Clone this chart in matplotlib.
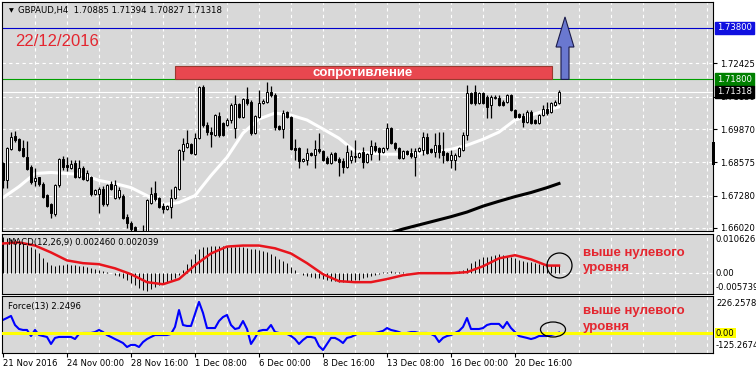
import matplotlib
matplotlib.use("Agg")
import matplotlib.pyplot as plt
from matplotlib.patches import Rectangle, Polygon, Ellipse
import numpy as np

# ---------------- data (GBPAUD H4) ----------------
opens = [1.6853, 1.6787, 1.6908, 1.6959, 1.6947, 1.6912, 1.6877, 1.6838, 1.6783, 1.6799,
         1.6775, 1.6732, 1.6697, 1.6658, 1.6771, 1.6869, 1.6846, 1.6834, 1.6853, 1.6799,
         1.6834, 1.6787, 1.6799, 1.6736, 1.6736, 1.6755, 1.6697, 1.6775, 1.6720, 1.6724,
         1.6728, 1.6646, 1.6622, 1.6606, 1.6583, 1.6552, 1.6560, 1.6701, 1.6740, 1.6720,
         1.6689, 1.6677, 1.6685, 1.6720, 1.6755, 1.6900, 1.6916, 1.6928, 1.6889, 1.6951,
         1.7151, 1.7002, 1.6975, 1.6963, 1.7038, 1.7010, 1.7002, 1.7022, 1.6991, 1.7084,
         1.7034, 1.7104, 1.7092, 1.6971, 1.7034, 1.7088, 1.7092, 1.7131, 1.7120, 1.6998,
         1.6987, 1.7053, 1.7034, 1.6912, 1.6912, 1.6861, 1.6865, 1.6893, 1.6885, 1.6908,
         1.6900, 1.6873, 1.6853, 1.6893, 1.6869, 1.6861, 1.6838, 1.6865, 1.6881, 1.6877,
         1.6897, 1.6857, 1.6889, 1.6920, 1.6912, 1.6897, 1.6912, 1.6991, 1.6932, 1.6912,
         1.6873, 1.6900, 1.6893, 1.6877, 1.6900, 1.6904, 1.6955, 1.6908, 1.6897, 1.6924,
         1.6900, 1.6893, 1.6865, 1.6865, 1.6881, 1.6904, 1.6963, 1.7127, 1.7131, 1.7088,
         1.7127, 1.7112, 1.7081, 1.7108, 1.7108, 1.7092, 1.7092, 1.7120, 1.7061, 1.7045,
         1.7038, 1.7014, 1.7053, 1.7022, 1.7010, 1.7041, 1.7065, 1.7053, 1.7081, 1.70885]
highs = [1.6857, 1.6916, 1.6975, 1.6979, 1.6951, 1.6944, 1.6940, 1.6846, 1.6834, 1.6802,
         1.6779, 1.6736, 1.6701, 1.6775, 1.6873, 1.6881, 1.6877, 1.6865, 1.6865, 1.6865,
         1.6842, 1.6826, 1.6806, 1.6755, 1.6763, 1.6767, 1.6775, 1.6783, 1.6787, 1.6763,
         1.6736, 1.6658, 1.6630, 1.6610, 1.6591, 1.6614, 1.6716, 1.6763, 1.6783, 1.6724,
         1.6701, 1.6693, 1.6755, 1.6767, 1.6908, 1.6951, 1.6983, 1.6932, 1.6971, 1.7155,
         1.7158, 1.7014, 1.6994, 1.7045, 1.7053, 1.7014, 1.7030, 1.7088, 1.7120, 1.7088,
         1.7108, 1.7151, 1.7100, 1.7041, 1.7139, 1.7104, 1.7170, 1.7155, 1.7127, 1.7002,
         1.7061, 1.7057, 1.7038, 1.6947, 1.6916, 1.6873, 1.6912, 1.6897, 1.6944, 1.6971,
         1.6904, 1.6881, 1.6897, 1.6897, 1.6877, 1.6873, 1.6924, 1.6904, 1.6944, 1.6897,
         1.6916, 1.6893, 1.6944, 1.6936, 1.6916, 1.6916, 1.7010, 1.6994, 1.6936, 1.6916,
         1.6904, 1.6904, 1.6912, 1.6912, 1.6916, 1.6975, 1.6971, 1.6912, 1.6971, 1.6975,
         1.6975, 1.6897, 1.6904, 1.6893, 1.6916, 1.6975, 1.7158, 1.7131, 1.7158, 1.7131,
         1.7131, 1.7120, 1.7120, 1.7120, 1.7120, 1.7100, 1.7123, 1.7123, 1.7065, 1.7049,
         1.7049, 1.7061, 1.7061, 1.7026, 1.7045, 1.7081, 1.7092, 1.7092, 1.7100, 1.71394]
lows = [1.6759, 1.6759, 1.6904, 1.6936, 1.6900, 1.6877, 1.6826, 1.6775, 1.6767, 1.6767,
        1.6720, 1.6685, 1.6642, 1.6650, 1.6763, 1.6826, 1.6822, 1.6830, 1.6795, 1.6795,
        1.6787, 1.6783, 1.6728, 1.6732, 1.6661, 1.6689, 1.6689, 1.6751, 1.6716, 1.6716,
        1.6638, 1.6603, 1.6591, 1.6568, 1.6544, 1.6544, 1.6544, 1.6697, 1.6708, 1.6681,
        1.6661, 1.6673, 1.6642, 1.6716, 1.6751, 1.6865, 1.6912, 1.6889, 1.6885, 1.6947,
        1.6994, 1.6963, 1.6916, 1.6959, 1.6955, 1.6959, 1.6998, 1.7010, 1.6951, 1.7030,
        1.7030, 1.7081, 1.6963, 1.6967, 1.7030, 1.7084, 1.7088, 1.7112, 1.6983, 1.6983,
        1.6951, 1.7030, 1.6904, 1.6865, 1.6834, 1.6857, 1.6846, 1.6881, 1.6834, 1.6893,
        1.6861, 1.6849, 1.6849, 1.6861, 1.6806, 1.6814, 1.6834, 1.6853, 1.6857, 1.6873,
        1.6834, 1.6853, 1.6865, 1.6897, 1.6865, 1.6893, 1.6904, 1.6928, 1.6904, 1.6869,
        1.6869, 1.6885, 1.6873, 1.6806, 1.6897, 1.6885, 1.6889, 1.6893, 1.6877, 1.6873,
        1.6853, 1.6861, 1.6834, 1.6826, 1.6877, 1.6900, 1.6944, 1.7084, 1.7081, 1.7084,
        1.7084, 1.7030, 1.7030, 1.7104, 1.7077, 1.7077, 1.7088, 1.7057, 1.7030, 1.7030,
        1.6994, 1.7010, 1.7006, 1.7006, 1.7006, 1.7038, 1.7041, 1.7049, 1.7077, 1.70827]
closes = [1.6787, 1.6912, 1.6955, 1.6944, 1.6904, 1.6881, 1.6830, 1.6779, 1.6795, 1.6775,
          1.6724, 1.6689, 1.6661, 1.6771, 1.6869, 1.6838, 1.6838, 1.6849, 1.6799, 1.6834,
          1.6791, 1.6814, 1.6736, 1.6751, 1.6755, 1.6697, 1.6771, 1.6755, 1.6771, 1.6751,
          1.6642, 1.6622, 1.6599, 1.6583, 1.6560, 1.6572, 1.6712, 1.6736, 1.6716, 1.6685,
          1.6677, 1.6689, 1.6720, 1.6763, 1.6904, 1.6928, 1.6932, 1.6893, 1.6951, 1.7151,
          1.7002, 1.6975, 1.6967, 1.7041, 1.6963, 1.6963, 1.7022, 1.7081, 1.7084, 1.7034,
          1.7104, 1.7088, 1.6971, 1.7038, 1.7088, 1.7096, 1.7131, 1.7120, 1.6994, 1.6987,
          1.7049, 1.7034, 1.6908, 1.6904, 1.6861, 1.6869, 1.6893, 1.6885, 1.6908, 1.6900,
          1.6865, 1.6853, 1.6889, 1.6865, 1.6857, 1.6838, 1.6897, 1.6881, 1.6877, 1.6893,
          1.6857, 1.6889, 1.6920, 1.6904, 1.6897, 1.6912, 1.6991, 1.6932, 1.6912, 1.6873,
          1.6900, 1.6889, 1.6881, 1.6900, 1.6912, 1.6955, 1.6893, 1.6897, 1.6924, 1.6897,
          1.6885, 1.6865, 1.6885, 1.6885, 1.6912, 1.6963, 1.7127, 1.7088, 1.7088, 1.7127,
          1.7088, 1.7073, 1.7112, 1.7112, 1.7081, 1.7081, 1.7120, 1.7061, 1.7034, 1.7034,
          1.7014, 1.7053, 1.7010, 1.7010, 1.7041, 1.7065, 1.7049, 1.7088, 1.7092, 1.71318]

# moving averages, read every 4th bar
ma_bars = list(range(0, 137, 4)) + [139]
ma_fast = [1.6720, 1.6763, 1.6814, 1.6818, 1.6814, 1.6810, 1.6787, 1.6775, 1.6759, 1.6728,
           1.6693, 1.6701, 1.6728, 1.6806, 1.6877, 1.6971, 1.7026, 1.7049, 1.7041, 1.7022,
           1.6987, 1.6951, 1.6900, 1.6893, 1.6889, 1.6889, 1.6893, 1.6900, 1.6908, 1.6924,
           1.6947, 1.6975, 1.7022, 1.7041, 1.7061, 1.7073]
slow_bars = list(range(96, 137, 4)) + [139]
ma_slow = [1.6579, 1.6598, 1.6614, 1.6630, 1.6646, 1.6664, 1.6687, 1.6706, 1.6724, 1.6740,
           1.6759, 1.6775]

macd_hist = [0.0106, 0.0103, 0.0100, 0.0098, 0.0092, 0.0089, 0.0083, 0.0077, 0.0069, 0.0057,
             0.0043, 0.0032, 0.0023, 0.0020, 0.0023, 0.0023, 0.0026, 0.0023, 0.0023, 0.0020,
             0.0020, 0.0017, 0.0014, 0.0011, 0.0009, 0.0006, 0.0003, 0.0001, -0.0006, -0.0009,
             -0.0014, -0.0020, -0.0029, -0.0034, -0.0043, -0.0049, -0.0052, -0.0046, -0.0040, -0.0034,
             -0.0029, -0.0026, -0.0020, -0.0014, -0.0006, 0.0009, 0.0026, 0.0040, 0.0055, 0.0069,
             0.0075, 0.0077, 0.0080, 0.0080, 0.0080, 0.0080, 0.0077, 0.0077, 0.0077, 0.0075,
             0.0075, 0.0072, 0.0069, 0.0069, 0.0066, 0.0063, 0.0060, 0.0055, 0.0049, 0.0040,
             0.0034, 0.0029, 0.0017, 0.0009, 0.0001, -0.0006, -0.0009, -0.0011, -0.0014, -0.0014,
             -0.0017, -0.0020, -0.0023, -0.0023, -0.0026, -0.0026, -0.0023, -0.0023, -0.0020, -0.0020,
             -0.0014, -0.0011, -0.0009, -0.0006, -0.0003, 0.0003, 0.0003, 0.0006, 0.0003, 0.0003,
             0.0003, 0.0001, 0.0001, 0.0001, 0.0002, 0.0002, 0.0001, 0.0001, 0.0001, 0.0001,
             0.0001, 0.0001, 0.0001, 0.0003, 0.0006, 0.0009, 0.0014, 0.0029, 0.0035, 0.0040,
             0.0046, 0.0048, 0.0050, 0.0054, 0.0055, 0.0052, 0.0050, 0.0048, 0.0044, 0.0039,
             0.0034, 0.0033, 0.0031, 0.0029, 0.0027, 0.0023, 0.0023, 0.0024, 0.0025, 0.00246]
macd_signal = [0.0086, 0.0089, 0.0080, 0.0060, 0.0037, 0.0029, 0.0026, 0.0014, -0.0003, -0.0026,
               -0.0032, -0.0017, 0.0023, 0.0057, 0.0077, 0.0080, 0.0080, 0.0072, 0.0057, 0.0029,
               -0.0003, -0.0023, -0.0026, -0.0026, -0.0017, -0.0006, 0.0000, 0.0000, 0.0000, 0.0003,
               0.0020, 0.0043, 0.0052, 0.0040, 0.0022, 0.0022]

force = [82, 94, 107, 50, 25, 19, 19, -19, 19, -13,
         -19, -25, -69, -31, -25, -25, -25, -25, -38, -6,
         0, 0, 0, 6, 19, 6, -13, -25, -38, -50,
         -63, -88, -75, -75, -88, -57, -38, -25, -13, -13,
         -13, -13, -6, 38, 144, 50, 44, 44, 119, 195,
         126, 31, 31, 31, 75, 100, 113, 50, 25, 31,
         75, 25, -69, -31, 13, 19, 19, 50, 6, 0,
         -6, -6, -19, -38, -69, -44, -25, -25, -31, -82,
         -107, -69, -31, -31, -44, -63, -31, -25, -13, 0,
         0, 0, 0, 0, 6, 13, 31, 19, 13, 6,
         -6, 0, 6, 6, 0, 0, 0, -6, -19, -57,
         -31, -19, -13, 0, 13, 38, 94, 25, 25, 25,
         31, 50, 57, 57, 57, 31, 69, 31, 6, -19,
         -25, -31, -38, -31, -19, -19, -19, -13, -6, 2.2496]

price_ticks = [1.72425, 1.71130, 1.69870, 1.68575, 1.67280, 1.66020]
date_bars = [0, 16, 32, 48, 64, 80, 96, 112, 128]
date_labels = ["21 Nov 2016", "24 Nov 00:00", "28 Nov 16:00", "1 Dec 08:00", "6 Dec 00:00",
               "8 Dec 16:00", "13 Dec 08:00", "16 Dec 00:00", "20 Dec 16:00"]
resistance = 1.71800
target = 1.73800
last_price = 1.71318

# ---------------- layout ----------------
W, H = 756, 374
BG = "#D8D8D8"
RED = "#E4262F"
SMALL = dict(fontsize=6.1, family="DejaVu Sans")

fig = plt.figure(figsize=(W / 100, H / 100), dpi=100)
fig.patch.set_facecolor("white")


def box(x0, y0, x1, y1):
    return [x0 / W, 1 - y1 / H, (x1 - x0) / W, (y1 - y0) / H]


def fpos(x, y):
    return x / W, 1 - y / H


ax = fig.add_axes(box(2, 2, 713, 231))
axm = fig.add_axes(box(2, 234, 713, 293.5))
axf = fig.add_axes(box(2, 296, 713, 352.5))

bars = np.arange(len(closes))
grid_bars = np.arange(8, 178, 8)
for a in (ax, axm, axf):
    a.set_facecolor(BG)
    a.set_xlim(-0.25, 177.5)
    for s in a.spines.values():
        s.set_color("black")
        s.set_linewidth(0.8)
    for g in grid_bars:
        a.axvline(g, color="white", lw=0.8, ls=(0, (3, 3)), zorder=0.5)
    a.set_xticks([])
    a.set_yticks([])

# ---------------- main price panel ----------------
ax.set_ylim(1.65903, 1.74811)
for p in price_ticks:
    ax.axhline(p, color="white", lw=0.8, ls=(0, (3, 3)), zorder=0.5)

o = np.array(opens); c = np.array(closes)
ax.vlines(bars, lows, highs, color="black", lw=0.9, zorder=3)
body_low = np.minimum(o, c)
body_h = np.maximum(np.abs(c - o), 0.00018)
fills = ["white" if cc >= oo else "black" for oo, cc in zip(o, c)]
ax.bar(bars, body_h, bottom=body_low, width=0.6, color=fills,
       edgecolor="black", linewidth=0.7, zorder=4)

ax.plot(ma_bars, ma_fast, color="white", lw=2.2, zorder=2, solid_capstyle="round")
ax.plot(slow_bars, ma_slow, color="black", lw=2.2, zorder=2)

ax.axhline(target, color="#0000CD", lw=0.8, zorder=2)
ax.axhline(resistance, color="#00A000", lw=0.8, zorder=2)
ax.axhline(last_price, color="white", lw=0.8, zorder=1)

ax.add_patch(Rectangle((43, resistance), 94.25, 0.0052, facecolor="#E8474F",
                       edgecolor="#9A3A30", lw=0.8, zorder=5))
ax.text(90, resistance + 0.0026, "сопротивление", color="white", fontsize=9.5,
        fontweight="bold", family="Liberation Sans", ha="center", va="center", zorder=6)

ax.add_patch(Polygon([(139.5, resistance), (141.5, resistance), (141.5, 1.7306),
                      (142.75, 1.7306), (140.5, 1.7423), (138.25, 1.7306),
                      (139.5, 1.7306)], closed=True, facecolor="#6A78D0",
                     edgecolor="#1A1A4A", lw=0.8, zorder=6))

ax.yaxis.tick_right()
ax.set_yticks(price_ticks)
ax.set_yticklabels([f"{p:.5f}" for p in price_ticks])
ax.tick_params(axis="y", direction="out", length=3, width=0.8, pad=2, labelsize=6.1)

ytr = ax.get_yaxis_transform()
for val, fc in [(target, "#1010E0"), (resistance, "#008000"), (last_price, "black")]:
    ax.text(1.0 + 4 / 711, val, f"{val:.5f}", transform=ytr, color="white",
            ha="left", va="center", clip_on=False, zorder=10,
            bbox=dict(boxstyle="square,pad=0.2", facecolor=fc, edgecolor=fc), **SMALL)

fig.text(*fpos(9, 11), "▼", fontsize=4.5, va="center", ha="left")
fig.text(*fpos(18, 11), "GBPAUD,H4  1.70885 1.71394 1.70827 1.71318",
         va="center", ha="left", **SMALL)
fig.text(*fpos(15, 41), "22/12/2016", color=RED, fontsize=12, family="Liberation Sans",
         va="center", ha="left")
fig.patches.append(Rectangle(fpos(712, 165), 3 / W, 23 / H, transform=fig.transFigure,
                             facecolor="black", edgecolor="none"))

# ---------------- MACD panel ----------------
axm.set_ylim(-0.00588, 0.01134)
axm.axhline(0, color="white", lw=0.8, ls=(0, (3, 3)), zorder=0.5)
axm.vlines(bars, 0, macd_hist, color="black", lw=0.7, zorder=2)
axm.plot(ma_bars, macd_signal, color="#E8141C", lw=1.8, zorder=3)
fig.text(*fpos(8, 242), "MACD(12,26,9) 0.002460 0.002039", va="center", **SMALL)
fig.text(*fpos(716, 240), "0.010626", va="center", **SMALL)
fig.text(*fpos(716, 273), "0.00", va="center", **SMALL)
fig.text(*fpos(716, 287), "-0.005739", va="center", **SMALL)

# ---------------- Force panel ----------------
axf.set_ylim(-122.5, 232)
axf.plot(bars, force, color="#0000FF", lw=1.5, zorder=2)
axf.axhline(0, color="#FFFF00", lw=2.2, zorder=3)
fig.text(*fpos(8, 306), "Force(13) 2.2496", va="center", **SMALL)
fig.text(*fpos(716, 303), "226.2578", va="center", **SMALL)
fig.text(*fpos(716, 333), "0.00", va="center",
         bbox=dict(boxstyle="square,pad=0.1", facecolor="#FFFF00", edgecolor="none"), **SMALL)
fig.text(*fpos(716, 346), "-125.2674", va="center", **SMALL)

axf.set_xticks(date_bars)
axf.set_xticklabels(date_labels, ha="left", **SMALL)
axf.tick_params(axis="x", direction="out", length=3, width=0.8, pad=2)

# ---------------- annotations ----------------
for y, t in [(253, "выше нулевого"), (268, "уровня"), (311, "выше нулевого"), (327, "уровня")]:
    fig.text(*fpos(583, y), t, color=RED, fontsize=9.5, fontweight="bold",
             family="Liberation Sans", va="center", ha="left")

fig.patches.append(Ellipse(fpos(559.5, 265.5), 25 / W, 25 / H, transform=fig.transFigure,
                           facecolor="none", edgecolor="black", lw=0.9))
fig.patches.append(Ellipse(fpos(553, 329.5), 25 / W, 15 / H, transform=fig.transFigure,
                           facecolor="none", edgecolor="black", lw=0.9))

fig.savefig("out.png", dpi=100, facecolor=fig.get_facecolor())
